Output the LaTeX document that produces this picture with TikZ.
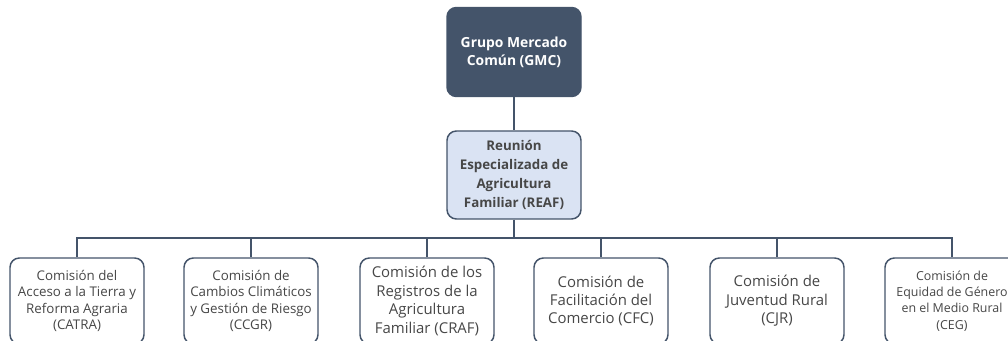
\documentclass[tikz,border=0pt]{standalone}
\usepackage{fontspec}
\setmainfont{Open Sans}
\usepackage{tikz}
\definecolor{slate}{HTML}{44546A}
\definecolor{paleblue}{HTML}{DAE3F3}
\definecolor{txtgray}{HTML}{474747}
\tikzset{
    every node/.style={draw=slate, line width=1.1pt, rounded corners=7pt, align=center, inner sep=0pt},
    topbox/.style={fill=slate, text=white, minimum width=100.5pt, minimum height=66.75pt, font=\fontsize{10.4}{13.5}\selectfont\bfseries},
    midbox/.style={fill=paleblue, text=txtgray, minimum width=100.5pt, minimum height=66pt, font=\fontsize{10}{14.25}\selectfont\bfseries},
    combox/.style={fill=white, text=txtgray, minimum width=100.5pt, minimum height=64.5pt},
    smalltxt/.style={font=\fontsize{10}{12.2}\selectfont},
    edgetxt/.style={font=\fontsize{9.3}{12.2}\selectfont},
    bigtxt/.style={font=\fontsize{11.2}{13.8}\selectfont},
    link/.style={draw=slate, line width=1.1pt}
}

\begin{document}
\begin{tikzpicture}[x=0.75pt, y=-0.75pt]
    \useasboundingbox (0,0) rectangle (1008,341);
    \clip (0,0) rectangle (1008,341);

    \node (gmc) at (514, 52) [topbox] {Grupo Mercado\\Común (GMC)};
    \node (reaf) at (514, 175) [midbox] {Reunión\\Especializada de\\Agricultura\\Familiar (REAF)};
    \coordinate (bus) at (514, 238);

    \node (catra) at (77, 301) [combox, smalltxt] {Comisión del\\Acceso a la Tierra y\\Reforma Agraria\\(CATRA)};
    \node (ccgr) at (251, 301) [combox, smalltxt] {Comisión de\\Cambios Climáticos\\y Gestión de Riesgo\\(CCGR)};
    \node (craf) at (427, 301) [combox, bigtxt] {Comisión de los\\Registros de la\\Agricultura\\Familiar (CRAF)};
    \node (cfc) at (601, 301) [combox, bigtxt] {Comisión de\\Facilitación del\\Comercio (CFC)};
    \node (cjr) at (777, 301) [combox, bigtxt] {Comisión de\\Juventud Rural\\(CJR)};
    \node (ceg) at (952, 301) [combox, edgetxt] {Comisión de\\Equidad de Género\\en el Medio Rural\\(CEG)};

    \draw [link] (gmc) -- (reaf);
    \draw [link] (reaf) -- (bus);
    \foreach \c in {catra, ccgr, craf, cfc, cjr, ceg}
        \draw [link] (bus) -| (\c.north);
\end{tikzpicture}
\end{document}
